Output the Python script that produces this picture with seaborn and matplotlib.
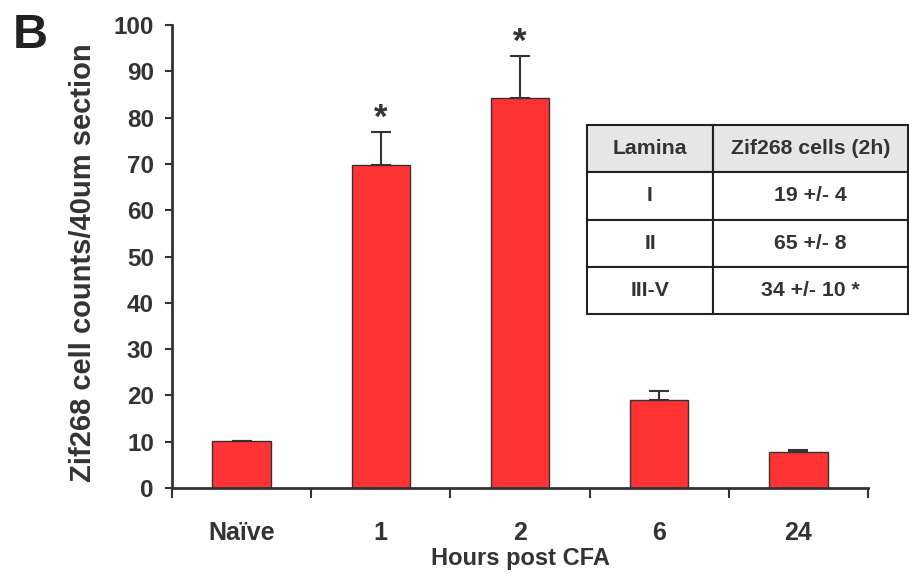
import matplotlib
matplotlib.use("Agg")
import matplotlib.pyplot as plt
import seaborn as sns
import numpy as np
import pandas as pd

categories = ["Naïve", "1", "2", "6", "24"]
means = [10.2, 69.7, 84.2, 18.9, 7.7]
errors_up = [0.0, 7.2, 9.0, 2.1, 0.5]
significant = [False, True, True, False, False]

table_header = ["Lamina", "Zif268 cells (2h)"]
table_lamina = ["I", "II", "III-V"]
table_cells = ["19 +/- 4", "65 +/- 8", "34 +/- 10 *"]

sns.set_theme(style="white")
plt.rcParams['font.family'] = ['Liberation Sans', 'DejaVu Sans']
plt.rcParams['font.weight'] = 'bold'

W, H = 909, 574
fig = plt.figure(figsize=(W / 100, H / 100), dpi=100)
fig.patch.set_facecolor("white")
ax = fig.add_axes([172 / W, (H - 488) / H, (868 - 172) / W, (488 - 25) / H])

df = pd.DataFrame({"cat": categories, "val": means})
bar_color = "#ff3333"
dark = "#333333"
sns.barplot(data=df, x="cat", y="val", order=categories, color=bar_color,
            saturation=1, width=0.42, edgecolor=dark, linewidth=1.0, ax=ax)

xs = np.arange(len(categories))
ax.errorbar(xs, means, yerr=[np.zeros(len(means)), errors_up], fmt="none",
            ecolor=dark, elinewidth=1.5, capsize=7, capthick=1.5, zorder=3)

for x, m, e, s in zip(xs, means, errors_up, significant):
    if s:
        ax.text(x, m + e - 0.6, "*", ha="center", va="bottom", fontsize=25,
                fontweight="bold", color=dark)

ax.set_xlim(-0.5, len(categories) - 0.5)
ax.set_ylim(0, 100)
ax.set_yticks(np.arange(0, 101, 10))
ax.set_xticks(xs)
ax.set_xticklabels(categories)
ax.set_xticks(np.arange(-0.5, len(categories), 1.0), minor=True)
ax.tick_params(axis="x", which="major", length=0, pad=24, labelsize=18,
               labelcolor=dark)
ax.tick_params(axis="x", which="minor", length=7, width=1.5, color=dark,
               direction="out", bottom=True)
ax.tick_params(axis="y", which="major", length=5, width=1.5, color=dark,
               direction="out", left=True, pad=8, labelsize=17.5, labelcolor=dark)
for lab in ax.get_xticklabels() + ax.get_yticklabels():
    lab.set_fontweight("bold")

for side in ["top", "right"]:
    ax.spines[side].set_visible(False)
for side in ["left", "bottom"]:
    ax.spines[side].set_color(dark)
    ax.spines[side].set_linewidth(2)

ax.set_xlabel("Hours post CFA", fontsize=17, fontweight="bold", color=dark,
              labelpad=1)
ax.set_ylabel("Zif268 cell counts/40um section", fontsize=21,
              fontweight="bold", color=dark, labelpad=12)
ax.yaxis.label.set_y(0.486)

fig.text(13 / W, 1 - 48 / H, "B", fontsize=35, fontweight="bold",
         color="#222222", va="baseline", ha="left")

# inset table
cell_text = [[l, c] for l, c in zip(table_lamina, table_cells)]
tax = fig.add_axes([587 / W, (H - 314) / H, (908 - 587) / W, (314 - 125) / H])
tax.axis("off")
tbl = tax.table(cellText=cell_text, colLabels=table_header,
                cellLoc="center", colWidths=[126 / 321, 195 / 321],
                bbox=[0, 0, 1, 1])
tbl.auto_set_font_size(False)
for (r, c), cell in tbl.get_celld().items():
    cell.set_edgecolor("#222222")
    cell.set_linewidth(1.5)
    cell.get_text().set_fontsize(15.3)
    cell.get_text().set_fontweight("bold")
    cell.get_text().set_color(dark)
    cell.set_facecolor("#e6e6e6" if r == 0 else "white")

fig.savefig("out.png", dpi=100, facecolor="white")
